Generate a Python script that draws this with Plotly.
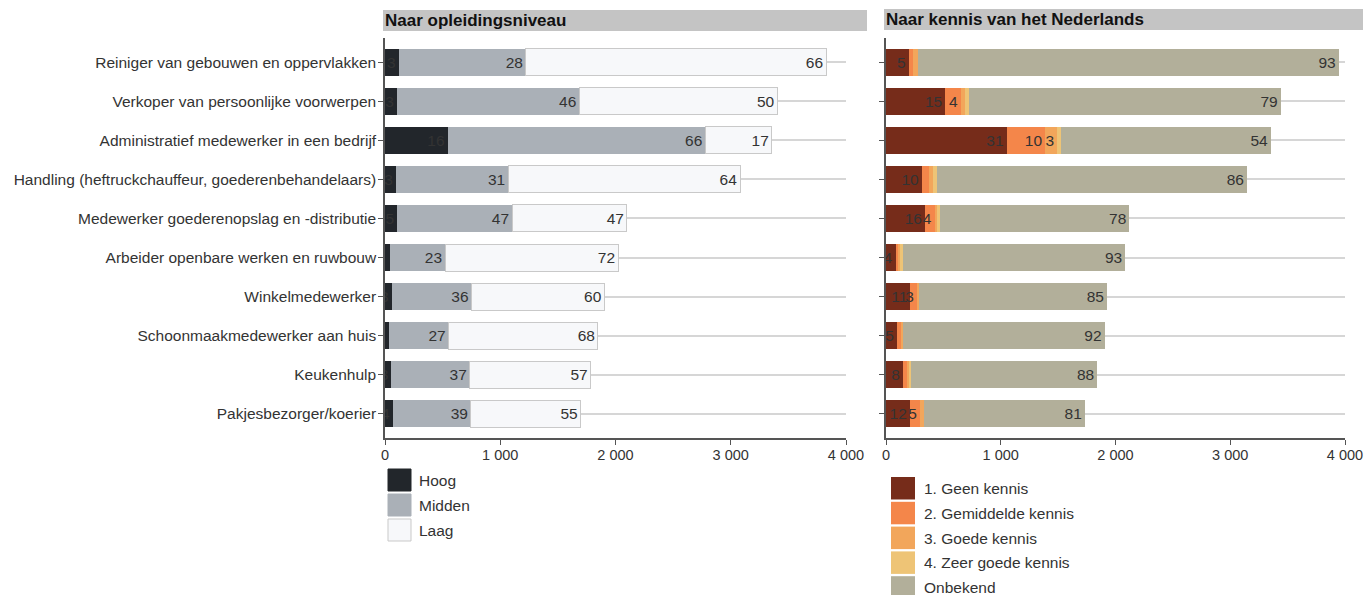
import plotly.graph_objects as go

W, H = 1367, 595

categories = [
    "Reiniger van gebouwen en oppervlakken",
    "Verkoper van persoonlijke voorwerpen",
    "Administratief medewerker in een bedrijf",
    "Handling (heftruckchauffeur, goederenbehandelaars)",
    "Medewerker goederenopslag en -distributie",
    "Arbeider openbare werken en ruwbouw",
    "Winkelmedewerker",
    "Schoonmaakmedewerker aan huis",
    "Keukenhulp",
    "Pakjesbezorger/koerier",
]
# total number of workers per occupation (bar scale)
totals = [3945, 3440, 3390, 3145, 2120, 2085, 1925, 1905, 1840, 1733]

# Percentages by education level
hoog = [3, 3, 16, 3, 5, 2, 3, 2, 3, 4]
midden = [28, 46, 66, 31, 47, 23, 36, 27, 37, 39]
laag = [66, 50, 17, 64, 47, 72, 60, 68, 57, 55]

# Percentages by knowledge of Dutch
geen = [5, 15, 31, 10, 16, 4, 11, 5, 8, 12]
gemiddeld = [1, 4, 10, 2, 4, 1, 3, 2, 2, 5]
goed = [1, 1, 3, 1, 1, 1, 1, 1, 1, 2]
zeer_goed = [0, 1, 1, 1, 1, 1, 0, 0, 1, 0]
onbekend = [93, 79, 54, 86, 78, 93, 85, 92, 88, 81]

tick_vals = [0, 1000, 2000, 3000, 4000]
tick_labels = ["0", "1 000", "2 000", "3 000", "4 000"]

left_series = [("Hoog", hoog, "#22262b", None), ("Midden", midden, "#aab0b7", None),
               ("Laag", laag, "#f7f8fa", "#c9c9c9")]
right_series = [("1. Geen kennis", geen, "#762c1a"), ("2. Gemiddelde kennis", gemiddeld, "#f4864a"),
                ("3. Goede kennis", goed, "#f2a65b"), ("4. Zeer goede kennis", zeer_goed, "#eec476"),
                ("Onbekend", onbekend, "#b2af9a")]

FONT = "Liberation Sans, Arial, sans-serif"
TXT = "#333333"
FS = 15.5


def px_x(x):
    return x / W


def px_y(y):
    return 1 - y / H


def seg(pcts):
    return [t * p / 100 for t, p in zip(totals, pcts)]


def labels(pcts):
    return [str(p) if p >= 3 else "" for p in pcts]


fig = go.Figure()
for name, vals, col, line in left_series:
    fig.add_trace(go.Bar(
        y=categories, x=seg(vals), orientation="h", name=name,
        marker=dict(color=col, line=dict(color=line or col, width=1 if line else 0)),
        text=labels(vals), textposition="inside", insidetextanchor="end", textangle=0,
        insidetextfont=dict(color=TXT, size=FS, family=FONT),
        xaxis="x", yaxis="y", showlegend=False, cliponaxis=True))
for name, vals, col in right_series:
    fig.add_trace(go.Bar(
        y=categories, x=seg(vals), orientation="h", name=name,
        marker=dict(color=col, line=dict(width=0)),
        text=labels(vals), textposition="inside", insidetextanchor="end", textangle=0,
        insidetextfont=dict(color=TXT, size=FS, family=FONT),
        xaxis="x2", yaxis="y2", showlegend=False, cliponaxis=True))

ydom = [px_y(438), px_y(38)]
yrange = [len(categories) - 0.5 + 0.12, -0.5 - 0.12]
xcommon = dict(range=[0, 4000], tickvals=tick_vals, ticktext=tick_labels, ticks="outside",
               ticklen=5, tickcolor="#555", showline=True, linecolor="#555", linewidth=1.5,
               showgrid=False, zeroline=False, tickfont=dict(size=14.5, color=TXT, family=FONT),
               automargin=False, fixedrange=True, ticklabelstandoff=-2)
ycommon = dict(type="category", range=yrange, domain=ydom, showgrid=True, gridcolor="#d6d6d6",
               gridwidth=1.5, ticks="outside", ticklen=5, tickcolor="#555", showline=True,
               linecolor="#555", linewidth=1.5, zeroline=False, automargin=False,
               tickfont=dict(size=FS, color=TXT, family=FONT), fixedrange=True,
               ticklabelstandoff=-1)

fig.update_layout(
    width=W, height=H, margin=dict(l=0, r=0, t=0, b=0),
    paper_bgcolor="white", plot_bgcolor="white", barmode="stack", bargap=0.31,
    showlegend=False, uniformtext=dict(minsize=FS, mode="show"),
    font=dict(family=FONT, size=FS, color=TXT),
    xaxis=dict(domain=[px_x(385), px_x(846)], anchor="y", **xcommon),
    yaxis=dict(anchor="x", **ycommon),
    xaxis2=dict(domain=[px_x(886), px_x(1345)], anchor="y2", **xcommon),
    yaxis2=dict(anchor="x2", showticklabels=False, **ycommon),
)

shapes = []
annotations = []
# panel headers
for (x0, x1, y0, y1, title) in [(383, 867, 10, 31, "Naar opleidingsniveau"),
                                (884, 1363, 9, 30, "Naar kennis van het Nederlands")]:
    shapes.append(dict(type="rect", xref="paper", yref="paper", x0=px_x(x0), x1=px_x(x1),
                       y0=px_y(y1), y1=px_y(y0), fillcolor="#c4c4c4", line=dict(width=0), layer="below"))
    annotations.append(dict(xref="paper", yref="paper", x=px_x(x0), y=px_y((y0 + y1) / 2),
                            xanchor="left", yanchor="middle", showarrow=False,
                            text="<b>" + title + "</b>", font=dict(size=17, color="#111", family=FONT)))

# legends
for i, (name, vals, col, line) in enumerate(left_series):
    y0 = 469 + 25 * i
    shapes.append(dict(type="rect", xref="paper", yref="paper", x0=px_x(388), x1=px_x(411),
                       y0=px_y(y0 + 22), y1=px_y(y0), fillcolor=col,
                       line=dict(color=line or col, width=1)))
    annotations.append(dict(xref="paper", yref="paper", x=px_x(417), y=px_y(y0 + 11),
                            xanchor="left", yanchor="middle", showarrow=False, text=name,
                            font=dict(size=FS, color=TXT, family=FONT)))
for i, (name, vals, col) in enumerate(right_series):
    y0 = 477 + 24.8 * i
    shapes.append(dict(type="rect", xref="paper", yref="paper", x0=px_x(891), x1=px_x(915),
                       y0=px_y(y0 + 22.5), y1=px_y(y0), fillcolor=col, line=dict(width=0)))
    annotations.append(dict(xref="paper", yref="paper", x=px_x(922), y=px_y(y0 + 11.5),
                            xanchor="left", yanchor="middle", showarrow=False, text=name,
                            font=dict(size=FS, color=TXT, family=FONT)))

fig.update_layout(shapes=shapes, annotations=annotations)
fig.write_html("out.html", config={"displayModeBar": False},
               post_script="document.body.style.margin='0';document.body.style.overflow='hidden';")
